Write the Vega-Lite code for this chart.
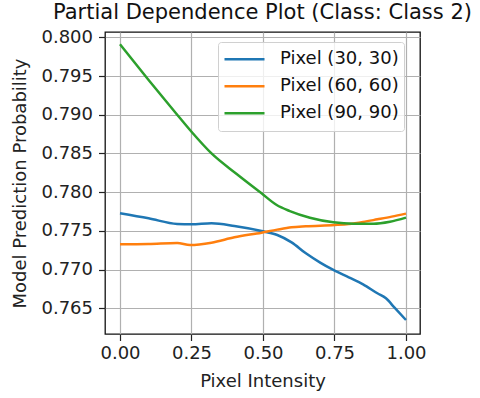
{
  "$schema": "https://vega.github.io/schema/vega-lite/v6.json",
  "width": 315,
  "height": 302,
  "autosize": {"type": "none"},
  "padding": {"left": 105, "top": 32, "right": 60, "bottom": 64},
  "background": "white",
  "title": {"text": "Partial Dependence Plot (Class: Class 2)", "font": "DejaVu Sans", "fontSize": 21, "fontWeight": "normal", "color": "#111", "anchor": "middle", "offset": 5},
  "config": {
    "view": {"stroke": "#111", "strokeWidth": 1.3},
    "font": "DejaVu Sans"
  },
  "data": {"values": [
    {"series": "Pixel (30, 30)", "x": 0.0, "y": 0.77727},
    {"series": "Pixel (30, 30)", "x": 0.1, "y": 0.77662},
    {"series": "Pixel (30, 30)", "x": 0.2, "y": 0.77589},
    {"series": "Pixel (30, 30)", "x": 0.25, "y": 0.77585},
    {"series": "Pixel (30, 30)", "x": 0.32, "y": 0.77598},
    {"series": "Pixel (30, 30)", "x": 0.4, "y": 0.77563},
    {"series": "Pixel (30, 30)", "x": 0.495, "y": 0.77498},
    {"series": "Pixel (30, 30)", "x": 0.55, "y": 0.77447},
    {"series": "Pixel (30, 30)", "x": 0.6, "y": 0.77352},
    {"series": "Pixel (30, 30)", "x": 0.65, "y": 0.7721},
    {"series": "Pixel (30, 30)", "x": 0.7, "y": 0.7709},
    {"series": "Pixel (30, 30)", "x": 0.746, "y": 0.76995},
    {"series": "Pixel (30, 30)", "x": 0.8, "y": 0.769},
    {"series": "Pixel (30, 30)", "x": 0.85, "y": 0.7681},
    {"series": "Pixel (30, 30)", "x": 0.9, "y": 0.76694},
    {"series": "Pixel (30, 30)", "x": 0.93, "y": 0.76629},
    {"series": "Pixel (30, 30)", "x": 0.96, "y": 0.76508},
    {"series": "Pixel (30, 30)", "x": 1.0, "y": 0.76349},
    {"series": "Pixel (60, 60)", "x": 0.0, "y": 0.77327},
    {"series": "Pixel (60, 60)", "x": 0.1, "y": 0.77331},
    {"series": "Pixel (60, 60)", "x": 0.2, "y": 0.77344},
    {"series": "Pixel (60, 60)", "x": 0.245, "y": 0.77318},
    {"series": "Pixel (60, 60)", "x": 0.32, "y": 0.77348},
    {"series": "Pixel (60, 60)", "x": 0.4, "y": 0.77417},
    {"series": "Pixel (60, 60)", "x": 0.495, "y": 0.77477},
    {"series": "Pixel (60, 60)", "x": 0.55, "y": 0.77516},
    {"series": "Pixel (60, 60)", "x": 0.6, "y": 0.77546},
    {"series": "Pixel (60, 60)", "x": 0.65, "y": 0.77559},
    {"series": "Pixel (60, 60)", "x": 0.75, "y": 0.77576},
    {"series": "Pixel (60, 60)", "x": 0.8, "y": 0.77589},
    {"series": "Pixel (60, 60)", "x": 0.85, "y": 0.77615},
    {"series": "Pixel (60, 60)", "x": 0.9, "y": 0.77649},
    {"series": "Pixel (60, 60)", "x": 0.95, "y": 0.77684},
    {"series": "Pixel (60, 60)", "x": 1.0, "y": 0.77723},
    {"series": "Pixel (90, 90)", "x": 0.0, "y": 0.7991},
    {"series": "Pixel (90, 90)", "x": 0.1, "y": 0.7945},
    {"series": "Pixel (90, 90)", "x": 0.2, "y": 0.79},
    {"series": "Pixel (90, 90)", "x": 0.25, "y": 0.7878},
    {"series": "Pixel (90, 90)", "x": 0.32, "y": 0.785},
    {"series": "Pixel (90, 90)", "x": 0.408, "y": 0.78235},
    {"series": "Pixel (90, 90)", "x": 0.495, "y": 0.77985},
    {"series": "Pixel (90, 90)", "x": 0.548, "y": 0.77834},
    {"series": "Pixel (90, 90)", "x": 0.594, "y": 0.77756},
    {"series": "Pixel (90, 90)", "x": 0.664, "y": 0.7767},
    {"series": "Pixel (90, 90)", "x": 0.746, "y": 0.77611},
    {"series": "Pixel (90, 90)", "x": 0.816, "y": 0.77593},
    {"series": "Pixel (90, 90)", "x": 0.886, "y": 0.77593},
    {"series": "Pixel (90, 90)", "x": 0.944, "y": 0.77619},
    {"series": "Pixel (90, 90)", "x": 1.0, "y": 0.77671}
  ]},
  "mark": {"type": "line", "strokeWidth": 2.5, "clip": true, "interpolate": "monotone"},
  "encoding": {
    "x": {
      "field": "x", "type": "quantitative",
      "scale": {"domain": [-0.0524, 1.049], "nice": false, "zero": false},
      "axis": {"values": [0, 0.25, 0.5, 0.75, 1], "format": ".2f", "title": "Pixel Intensity",
        "labelFont": "DejaVu Sans", "labelFontSize": 18, "labelColor": "#222", "labelPadding": 4,
        "titleFont": "DejaVu Sans", "titleFontSize": 18, "titleFontWeight": "normal", "titleColor": "#222", "titlePadding": 10,
        "tickSize": 6.5, "tickColor": "#222", "tickWidth": 1.2, "domain": false,
        "grid": true, "gridColor": "#b0b0b0", "gridWidth": 1.2}
    },
    "y": {
      "field": "y", "type": "quantitative",
      "scale": {"domain": [0.76168, 0.80069], "nice": false, "zero": false},
      "axis": {"values": [0.765, 0.77, 0.775, 0.78, 0.785, 0.79, 0.795, 0.8], "format": ".3f", "title": "Model Prediction Probability",
        "labelFont": "DejaVu Sans", "labelFontSize": 18, "labelColor": "#222", "labelPadding": 6,
        "titleFont": "DejaVu Sans", "titleFontSize": 18, "titleFontWeight": "normal", "titleColor": "#222", "titlePadding": 11,
        "tickSize": 6.5, "tickColor": "#222", "tickWidth": 1.2, "domain": false,
        "grid": true, "gridColor": "#b0b0b0", "gridWidth": 1.2}
    },
    "color": {
      "field": "series", "type": "nominal",
      "scale": {"domain": ["Pixel (30, 30)", "Pixel (60, 60)", "Pixel (90, 90)"], "range": ["#1f77b4", "#ff7f0e", "#2ca02c"]},
      "legend": {
        "title": null, "orient": "none", "legendX": 113, "legendY": 10,
        "symbolType": "stroke", "symbolSize": 1600, "symbolStrokeWidth": 2.5,
        "labelFont": "DejaVu Sans", "labelFontSize": 18, "labelColor": "#111", "labelOffset": 14,
        "clipHeight": 24.5, "rowPadding": 2,
        "padding": 5, "strokeColor": "#d0d0d0", "fillColor": "rgba(255,255,255,0.8)", "cornerRadius": 3
      }
    }
  }
}
